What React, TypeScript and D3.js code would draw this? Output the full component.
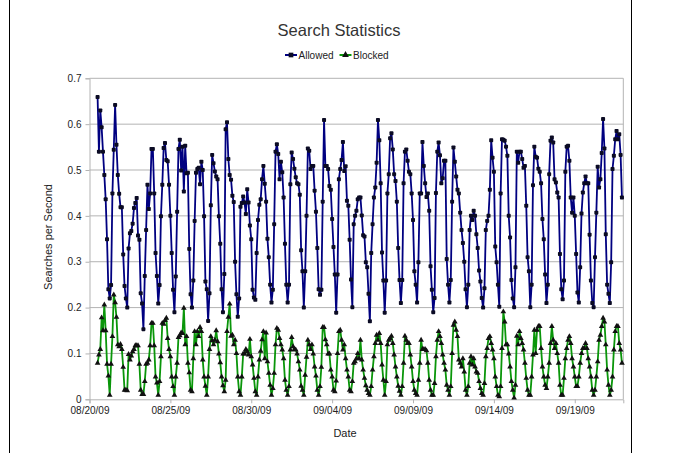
import React, { useEffect, useRef } from "react";
import * as d3 from "d3";

// samples every 2 hours, first one at noon on 08/20/09
const firstSample = new Date(2009, 7, 20, 12);
const sampleHours = 2;

const allowedValues = [
  0.659, 0.54, 0.63, 0.593, 0.54, 0.489, 0.436, 0.349, 0.24, 0.22,
  0.249, 0.449, 0.544, 0.642, 0.555, 0.489, 0.448, 0.419, 0.419, 0.316,
  0.247, 0.22, 0.2, 0.329, 0.362, 0.367, 0.383, 0.417, 0.428, 0.439,
  0.357, 0.348, 0.231, 0.209, 0.153, 0.269, 0.369, 0.468, 0.415, 0.449,
  0.546, 0.546, 0.449, 0.319, 0.269, 0.209, 0.249, 0.399, 0.468, 0.548,
  0.559, 0.522, 0.519, 0.468, 0.4, 0.319, 0.239, 0.19, 0.268, 0.409,
  0.546,
  0.566, 0.499, 0.551, 0.453, 0.553, 0.493, 0.494, 0.328, 0.229, 0.2,
  0.259, 0.389, 0.494, 0.502, 0.505, 0.469, 0.518, 0.5, 0.399, 0.257,
  0.24, 0.171, 0.231, 0.423, 0.533, 0.515, 0.497, 0.486, 0.48, 0.399,
  0.339, 0.24, 0.19, 0.273, 0.589, 0.604, 0.524, 0.489, 0.479, 0.444,
  0.43, 0.3, 0.229, 0.18, 0.22, 0.42, 0.428, 0.442, 0.429, 0.404,
  0.458, 0.429, 0.379, 0.349, 0.239, 0.222, 0.217, 0.319, 0.391, 0.424,
  0.436, 0.48, 0.509, 0.47, 0.431, 0.35, 0.31, 0.25, 0.211,
  0.239, 0.382, 0.54, 0.556, 0.535, 0.48, 0.518, 0.495, 0.44, 0.339, 0.25, 0.211,
  0.25, 0.469, 0.538, 0.524, 0.503, 0.484, 0.471, 0.469, 0.446, 0.325, 0.279, 0.2,
  0.279, 0.4, 0.547, 0.542, 0.502, 0.509, 0.509, 0.455, 0.409, 0.33, 0.24, 0.228,
  0.239, 0.431, 0.609, 0.509, 0.509, 0.502, 0.465, 0.457, 0.393, 0.332, 0.272, 0.189,
  0.272, 0.48, 0.502, 0.522, 0.561, 0.498, 0.508, 0.433, 0.422, 0.348, 0.261, 0.201,
  0.382, 0.4, 0.411, 0.436, 0.44, 0.44, 0.401, 0.358, 0.355, 0.299, 0.288, 0.23, 0.17,
  0.319, 0.382, 0.44, 0.462, 0.516, 0.609, 0.565, 0.471, 0.32, 0.259, 0.189,
  0.259, 0.449, 0.491, 0.569, 0.58, 0.545, 0.491, 0.476, 0.431, 0.33, 0.26, 0.21,
  0.26, 0.471, 0.54, 0.545, 0.52, 0.496, 0.491, 0.449, 0.391, 0.279, 0.25, 0.211,
  0.299, 0.449, 0.449, 0.561, 0.509, 0.471, 0.441, 0.449, 0.411, 0.29, 0.239, 0.19,
  0.221, 0.45, 0.54, 0.56, 0.532, 0.471, 0.482, 0.52, 0.52, 0.306, 0.25, 0.211,
  0.26, 0.431, 0.549, 0.518, 0.486, 0.457, 0.449, 0.407, 0.369, 0.341, 0.3, 0.24, 0.201,
  0.25, 0.369, 0.4, 0.391, 0.411, 0.4, 0.36, 0.33, 0.281, 0.257, 0.221, 0.2,
  0.242, 0.369, 0.389, 0.4, 0.457, 0.565, 0.527, 0.496, 0.333, 0.299, 0.25, 0.202,
  0.449, 0.567, 0.566, 0.564, 0.551, 0.531, 0.4, 0.353, 0.26, 0.22, 0.201,
  0.288, 0.54, 0.516, 0.54, 0.54, 0.524, 0.505, 0.509, 0.422, 0.31, 0.279, 0.201,
  0.25, 0.467, 0.551, 0.529, 0.527, 0.503, 0.496, 0.471, 0.393, 0.349, 0.272, 0.21,
  0.25, 0.491, 0.564, 0.571, 0.56, 0.48, 0.473, 0.451, 0.44, 0.317, 0.24, 0.218,
  0.259, 0.496, 0.551, 0.553, 0.52, 0.44, 0.407, 0.44, 0.4, 0.317, 0.233, 0.211,
  0.288, 0.405, 0.451, 0.471, 0.486, 0.471, 0.471, 0.359, 0.259, 0.21, 0.201,
  0.31, 0.407, 0.507, 0.462, 0.48, 0.537, 0.611, 0.547, 0.36, 0.25, 0.23, 0.21,
  0.299, 0.502, 0.531, 0.567, 0.585, 0.567, 0.578, 0.533, 0.44,
];

const blockedValues = [
  0.079, 0.097, 0.109, 0.178, 0.15, 0.206, 0.15, 0.077, 0.051, 0.009,
  0.077, 0.137, 0.228, 0.211, 0.179, 0.119, 0.115, 0.12, 0.109, 0.07,
  0.02, 0.02, 0.019, 0.098, 0.086, 0.095, 0.104, 0.109, 0.117, 0.117,
  0.117, 0.077, 0.02, 0.011, 0.011, 0.039, 0.077, 0.079, 0.086, 0.117,
  0.166, 0.166, 0.117, 0.049, 0.036, 0.009, 0.039, 0.093, 0.166, 0.164,
  0.172, 0.177, 0.133, 0.109, 0.093, 0.049, 0.028, 0.009, 0.049, 0.079,
  0.135,
  0.139, 0.145, 0.144, 0.199, 0.119, 0.137, 0.079, 0.058, 0.02, 0.017,
  0.089, 0.148, 0.119, 0.148, 0.137, 0.157, 0.148, 0.086, 0.049, 0.029,
  0.009, 0.049, 0.109, 0.137, 0.128, 0.119, 0.129, 0.15, 0.126, 0.099,
  0.08, 0.049, 0.03, 0.017, 0.042, 0.148, 0.179, 0.208, 0.138, 0.14,
  0.119, 0.129, 0.1, 0.049, 0.017, 0.009, 0.049, 0.099, 0.099, 0.109,
  0.104, 0.097, 0.131, 0.093, 0.075, 0.046, 0.017, 0.009, 0.049, 0.086,
  0.105, 0.13, 0.148, 0.089, 0.145, 0.082, 0.057, 0.031, 0.009,
  0.024, 0.057, 0.119, 0.155, 0.151, 0.133, 0.119, 0.108, 0.089, 0.042, 0.02, 0.009,
  0.028, 0.108, 0.135, 0.115, 0.109, 0.108, 0.099, 0.082, 0.064, 0.029, 0.02, 0.009,
  0.053, 0.092, 0.129, 0.119, 0.109, 0.119, 0.099, 0.071, 0.051, 0.02, 0.009,
  0.028, 0.07, 0.157, 0.157, 0.13, 0.119, 0.099, 0.099, 0.064, 0.049, 0.02, 0.017,
  0.04, 0.1, 0.148, 0.151, 0.129, 0.108, 0.119, 0.089, 0.064, 0.049, 0.02, 0.017,
  0.039, 0.079, 0.082, 0.089, 0.1, 0.089, 0.129, 0.086, 0.064, 0.046, 0.03, 0.02, 0.013, 0.009,
  0.028, 0.064, 0.093, 0.122, 0.14, 0.129, 0.144, 0.122, 0.075, 0.042, 0.009,
  0.039, 0.119, 0.129, 0.133, 0.138, 0.122, 0.097, 0.071, 0.049, 0.029, 0.018, 0.009,
  0.028, 0.079, 0.138, 0.129, 0.122, 0.122, 0.097, 0.071, 0.039, 0.02, 0.013, 0.009,
  0.042, 0.079, 0.129, 0.109, 0.109, 0.109, 0.106, 0.079, 0.042, 0.02, 0.009, 0.009,
  0.035, 0.093, 0.129, 0.148, 0.137, 0.122, 0.097, 0.079, 0.064, 0.031, 0.02, 0.009,
  0.028, 0.1, 0.162, 0.169, 0.151, 0.137, 0.086, 0.079, 0.071, 0.089, 0.06, 0.02, 0.009,
  0.028, 0.079, 0.093, 0.075, 0.089, 0.071, 0.06, 0.057, 0.039, 0.024, 0.013, 0.009,
  0.035, 0.093, 0.111, 0.133, 0.137, 0.122, 0.108, 0.089, 0.049, 0.028, 0.009, 0.006,
  0.028, 0.111, 0.191, 0.169, 0.119, 0.119, 0.099, 0.071, 0.039, 0.02, 0.003,
  0.031, 0.138, 0.119, 0.148, 0.133, 0.122, 0.108, 0.079, 0.046, 0.02, 0.009, 0.009,
  0.049, 0.097, 0.151, 0.1, 0.151, 0.159, 0.159, 0.111, 0.071, 0.049, 0.031, 0.024,
  0.049, 0.079, 0.122, 0.159, 0.129, 0.111, 0.122, 0.1, 0.079, 0.031, 0.009, 0.009,
  0.046, 0.089, 0.111, 0.129, 0.137, 0.122, 0.089, 0.071, 0.049, 0.028, 0.028, 0.049,
  0.079, 0.1, 0.111, 0.111, 0.122, 0.111, 0.089, 0.071, 0.049, 0.02, 0.009,
  0.02, 0.049, 0.082, 0.129, 0.14, 0.159, 0.177, 0.169, 0.119, 0.064, 0.031, 0.009,
  0.02, 0.049, 0.108, 0.148, 0.159, 0.159, 0.122, 0.108, 0.079,
];

const seriesNames = ["Allowed", "Blocked"];
const dateTicks = [
  new Date(2009, 7, 20),
  new Date(2009, 7, 25),
  new Date(2009, 7, 30),
  new Date(2009, 8, 4),
  new Date(2009, 8, 9),
  new Date(2009, 8, 14),
  new Date(2009, 8, 19),
];
const dateRange = [new Date(2009, 7, 20), new Date(2009, 8, 22)];
const yTicks = [0, 0.1, 0.2, 0.3, 0.4, 0.5, 0.6, 0.7];

const FONT = "'Liberation Sans', Arial, sans-serif";

export default function App() {
  const svgRef = useRef<SVGSVGElement>(null);

  useEffect(() => {
    const width = 673;
    const height = 453;
    const left = 89.5;
    const right = 623.3;
    const top = 78.3;
    const bottom = 399.3;

    const svg = d3.select(svgRef.current);
    svg.selectAll("*").remove();
    svg.attr("width", width).attr("height", height).attr("font-family", FONT);

    const x = d3.scaleTime().domain(dateRange).range([left, right]);
    const y = d3.scaleLinear().domain([0, 0.7]).range([bottom, top]);

    const toPoints = (vals: number[]) =>
      vals.map((v, i) => ({
        date: d3.timeHour.offset(firstSample, i * sampleHours),
        value: v,
      }));
    const allowed = toPoints(allowedValues);
    const blocked = toPoints(blockedValues);

    svg.append("rect").attr("width", width).attr("height", height).attr("fill", "#fff");

    // outer frame
    svg
      .append("rect")
      .attr("x", 9.5)
      .attr("y", -2)
      .attr("width", 622)
      .attr("height", height + 4)
      .attr("fill", "none")
      .attr("stroke", "#000");

    // grid
    svg
      .append("g")
      .selectAll("line")
      .data(yTicks.slice(1))
      .join("line")
      .attr("x1", left)
      .attr("x2", right)
      .attr("y1", (d) => y(d))
      .attr("y2", (d) => y(d))
      .attr("stroke", "#b3b3b3");

    svg
      .append("line")
      .attr("x1", right)
      .attr("x2", right)
      .attr("y1", top)
      .attr("y2", bottom)
      .attr("stroke", "#b3b3b3");

    const yAxis = svg
      .append("g")
      .attr("transform", `translate(${left},0)`)
      .call(
        d3
          .axisLeft(y)
          .tickValues(yTicks)
          .tickSize(4)
          .tickPadding(4)
          .tickFormat((d) => d3.format("~g")(d as number))
      );

    const xAxis = svg
      .append("g")
      .attr("transform", `translate(0,${bottom})`)
      .call(
        d3
          .axisBottom(x)
          .tickValues(dateTicks)
          .tickSize(4)
          .tickPadding(4)
          .tickFormat((d) => d3.timeFormat("%m/%d/%y")(d as Date))
      );

    [yAxis, xAxis].forEach((g) => {
      g.select(".domain").attr("stroke", "#b3b3b3");
      g.selectAll(".tick line").attr("stroke", "#b3b3b3");
      g.selectAll(".tick text")
        .attr("fill", "#222")
        .attr("font-size", 10)
        .attr("font-family", FONT);
    });

    const line = d3
      .line<{ date: Date; value: number }>()
      .x((d) => x(d.date))
      .y((d) => y(d.value));

    svg
      .append("path")
      .datum(allowed)
      .attr("fill", "none")
      .attr("stroke", "#000080")
      .attr("stroke-width", 1.8)
      .attr("stroke-linejoin", "round")
      .attr("d", line);

    svg
      .append("g")
      .selectAll("rect")
      .data(allowed)
      .join("rect")
      .attr("x", (d) => x(d.date) - 2)
      .attr("y", (d) => y(d.value) - 2)
      .attr("width", 4)
      .attr("height", 4)
      .attr("rx", 0.8)
      .attr("fill", "#0b0b24");

    svg
      .append("path")
      .datum(blocked)
      .attr("fill", "none")
      .attr("stroke", "#0a960a")
      .attr("stroke-width", 1.8)
      .attr("stroke-linejoin", "round")
      .attr("d", line);

    const tri = d3.symbol().type(d3.symbolTriangle).size(14);
    svg
      .append("g")
      .selectAll("path")
      .data(blocked)
      .join("path")
      .attr("transform", (d) => `translate(${x(d.date)},${y(d.value)})`)
      .attr("d", tri)
      .attr("fill", "#111");

    // title
    svg
      .append("text")
      .attr("x", 339)
      .attr("y", 36)
      .attr("text-anchor", "middle")
      .attr("font-size", 16.5)
      .attr("fill", "#333")
      .text("Search Statistics");

    // legend
    const legendItems = [
      { name: seriesNames[0], color: "#000080", x: 285, marker: "square" },
      { name: seriesNames[1], color: "#0a960a", x: 339.5, marker: "triangle" },
    ];
    const lg = svg
      .append("g")
      .selectAll("g")
      .data(legendItems)
      .join("g")
      .attr("transform", (d) => `translate(${d.x},55)`);
    lg.append("line")
      .attr("x1", 0)
      .attr("x2", 12)
      .attr("stroke", (d) => d.color)
      .attr("stroke-width", 2);
    lg.append("path")
      .attr("transform", "translate(6,0)")
      .attr("d", (d) =>
        d.marker === "square"
          ? d3.symbol().type(d3.symbolSquare).size(22)()
          : d3.symbol().type(d3.symbolTriangle).size(20)()
      )
      .attr("fill", (d) => (d.marker === "square" ? "#0b0b24" : "#111"));
    lg.append("text")
      .attr("x", 13.5)
      .attr("y", 3.6)
      .attr("font-size", 10)
      .attr("fill", "#222")
      .text((d) => d.name);

    // axis titles
    svg
      .append("text")
      .attr("x", 345)
      .attr("y", 437)
      .attr("text-anchor", "middle")
      .attr("font-size", 11)
      .attr("fill", "#222")
      .text("Date");

    svg
      .append("text")
      .attr("transform", "translate(52,237) rotate(-90)")
      .attr("text-anchor", "middle")
      .attr("font-size", 11)
      .attr("fill", "#222")
      .text("Searches per Second");
  }, []);

  return (
    <svg
      ref={svgRef}
      style={{ position: "absolute", left: 0, top: 0, display: "block" }}
    />
  );
}
